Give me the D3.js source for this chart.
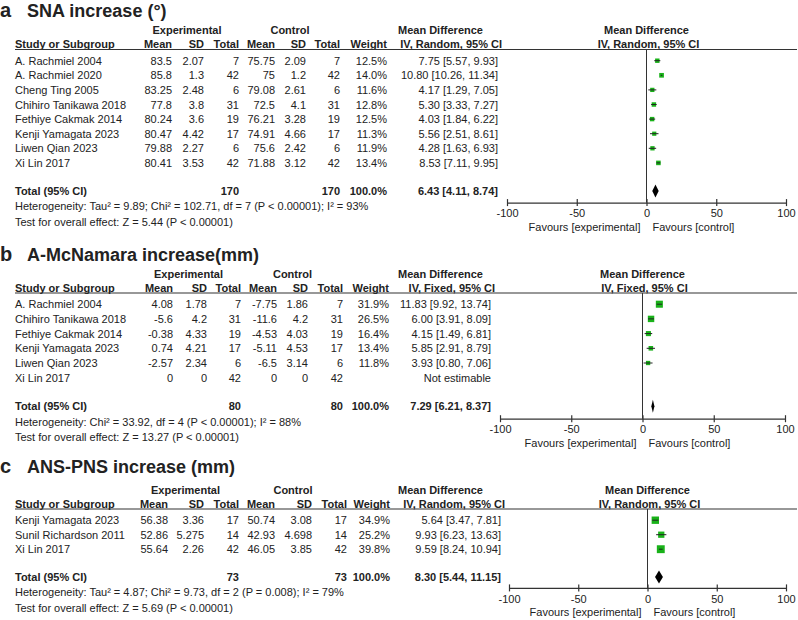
<!DOCTYPE html>
<html>
<head>
<meta charset="utf-8">
<script src="https://cdn.jsdelivr.net/npm/d3@7"></script>
<style>
  body { margin: 0; background: #fff; }
  text { font-family: Arial, "Liberation Sans", sans-serif; fill: #222; }
</style>
</head>
<body>
<div id="chart"></div>
<script>
// ---- panel a: SNA increase
const snaStudies = ["A. Rachmiel 2004", "A. Rachmiel 2020", "Cheng Ting 2005", "Chihiro Tanikawa 2018",
  "Fethiye Cakmak 2014", "Kenji Yamagata 2023", "Liwen Qian 2023", "Xi Lin 2017"];
const snaExpMean = [83.5, 85.8, 83.25, 77.8, 80.24, 80.47, 79.88, 80.41];
const snaExpSD = [2.07, 1.3, 2.48, 3.8, 3.6, 4.42, 2.27, 3.53];
const snaExpN = [7, 42, 6, 31, 19, 17, 6, 42];
const snaCtrlMean = [75.75, 75, 79.08, 72.5, 76.21, 74.91, 75.6, 71.88];
const snaCtrlSD = [2.09, 1.2, 2.61, 4.1, 3.28, 4.66, 2.42, 3.12];
const snaCtrlN = [7, 42, 6, 31, 19, 17, 6, 42];
const snaWeight = [12.5, 14.0, 11.6, 12.8, 12.5, 11.3, 11.9, 13.4];
const snaMD = [7.75, 10.80, 4.17, 5.30, 4.03, 5.56, 4.28, 8.53];
const snaLo = [5.57, 10.26, 1.29, 3.33, 1.84, 2.51, 1.63, 7.11];
const snaHi = [9.93, 11.34, 7.05, 7.27, 6.22, 8.61, 6.93, 9.95];
const snaTotal = [6.43, 4.11, 8.74];
const snaTotalN = [170, 170];

// ---- panel b: A-McNamara increase
const mcnStudies = ["A. Rachmiel 2004", "Chihiro Tanikawa 2018", "Fethiye Cakmak 2014",
  "Kenji Yamagata 2023", "Liwen Qian 2023", "Xi Lin 2017"];
const mcnExpMean = [4.08, -5.6, -0.38, 0.74, -2.57, 0];
const mcnExpSD = [1.78, 4.2, 4.33, 4.21, 2.34, 0];
const mcnExpN = [7, 31, 19, 17, 6, 42];
const mcnCtrlMean = [-7.75, -11.6, -4.53, -5.11, -6.5, 0];
const mcnCtrlSD = [1.86, 4.2, 4.03, 4.53, 3.14, 0];
const mcnCtrlN = [7, 31, 19, 17, 6, 42];
const mcnWeight = [31.9, 26.5, 16.4, 13.4, 11.8, null];
const mcnMD = [11.83, 6.00, 4.15, 5.85, 3.93, null];
const mcnLo = [9.92, 3.91, 1.49, 2.91, 0.80, null];
const mcnHi = [13.74, 8.09, 6.81, 8.79, 7.06, null];
const mcnTotal = [7.29, 6.21, 8.37];
const mcnTotalN = [80, 80];

// ---- panel c: ANS-PNS increase
const ansStudies = ["Kenji Yamagata 2023", "Sunil Richardson 2011", "Xi Lin 2017"];
const ansExpMean = [56.38, 52.86, 55.64];
const ansExpSD = [3.36, 5.275, 2.26];
const ansExpN = [17, 14, 42];
const ansCtrlMean = [50.74, 42.93, 46.05];
const ansCtrlSD = [3.08, 4.698, 3.85];
const ansCtrlN = [17, 14, 42];
const ansWeight = [34.9, 25.2, 39.8];
const ansMD = [5.64, 9.93, 9.59];
const ansLo = [3.47, 6.23, 8.24];
const ansHi = [7.81, 13.63, 10.94];
const ansTotal = [8.30, 5.44, 11.15];
const ansTotalN = [73, 73];

const axisTicks = [-100, -50, 0, 50, 100];

const panels = [
  {
    label: "a", title: "SNA increase (°)", method: "IV, Random, 95% CI",
    studies: snaStudies, expMean: snaExpMean, expSD: snaExpSD, expN: snaExpN,
    ctrlMean: snaCtrlMean, ctrlSD: snaCtrlSD, ctrlN: snaCtrlN, weight: snaWeight,
    md: snaMD, lo: snaLo, hi: snaHi, total: snaTotal, totalN: snaTotalN,
    het: "Heterogeneity: Tau² = 9.89; Chi² = 102.71, df = 7 (P < 0.00001); I² = 93%",
    test: "Test for overall effect: Z = 5.44 (P < 0.00001)",
    // layout
    line: 49.5, step: 14.6, titleY: 17, totalGap: 28, axisGap: 11.7,
    cols: [172, 204, 239, 275, 306, 340, 387, 498], expC: 187, ctrlC: 290,
    plot: [507, 786]
  },
  {
    label: "b", title: "A-McNamara increase(mm)", method: "IV, Fixed, 95% CI",
    studies: mcnStudies, expMean: mcnExpMean, expSD: mcnExpSD, expN: mcnExpN,
    ctrlMean: mcnCtrlMean, ctrlSD: mcnCtrlSD, ctrlN: mcnCtrlN, weight: mcnWeight,
    md: mcnMD, lo: mcnLo, hi: mcnHi, total: mcnTotal, totalN: mcnTotalN,
    het: "Heterogeneity: Chi² = 33.92, df = 4 (P < 0.00001); I² = 88%",
    test: "Test for overall effect: Z = 13.27 (P < 0.00001)",
    line: 293, step: 14.7, titleY: 261, totalGap: 28.5, axisGap: 12.5,
    cols: [173, 207, 241, 277, 308, 343, 389, 491], expC: 188.5, ctrlC: 292.5,
    plot: [500, 785]
  },
  {
    label: "c", title: "ANS-PNS increase (mm)", method: "IV, Random, 95% CI",
    studies: ansStudies, expMean: ansExpMean, expSD: ansExpSD, expN: ansExpN,
    ctrlMean: ansCtrlMean, ctrlSD: ansCtrlSD, ctrlN: ansCtrlN, weight: ansWeight,
    md: ansMD, lo: ansLo, hi: ansHi, total: ansTotal, totalN: ansTotalN,
    het: "Heterogeneity: Tau² = 4.87; Chi² = 9.73, df = 2 (P = 0.008); I² = 79%",
    test: "Test for overall effect: Z = 5.69 (P < 0.00001)",
    line: 509, step: 14.5, titleY: 473, totalGap: 27.7, axisGap: 11,
    cols: [168, 204, 239, 275, 312, 347, 390, 501], expC: 185.5, ctrlC: 293,
    plot: [509, 786]
  }
];

const width = 798;
const height = 620;

const svg = d3.select("#chart")
  .append("svg")
  .attr("width", width)
  .attr("height", height);

const green = "#19b219";
const lineColor = "#333";

panels.forEach((p) => {
  const g = svg.append("g");
  const x = d3.scaleLinear().domain([-100, 100]).range(p.plot);
  const rowY = (i) => p.line + 11.2 + i * p.step;
  const lastY = rowY(p.studies.length - 1);
  const totalY = lastY + p.totalGap;
  const axisY = totalY + p.axisGap;

  // title
  g.append("text").attr("x", 0).attr("y", p.titleY)
    .attr("font-size", 20).attr("font-weight", "bold").text(p.label);
  g.append("text").attr("x", 27).attr("y", p.titleY)
    .attr("font-size", 18).attr("font-weight", "bold").text(p.title);

  const bold = (t) => t.attr("font-size", 11).attr("font-weight", "bold");

  // group headers
  const topY = p.line - 19.5 + 4;
  bold(g.append("text")).attr("x", p.expC).attr("y", topY).attr("text-anchor", "middle").text("Experimental");
  bold(g.append("text")).attr("x", p.ctrlC).attr("y", topY).attr("text-anchor", "middle").text("Control");
  bold(g.append("text")).attr("x", 398).attr("y", topY).text("Mean Difference");
  bold(g.append("text")).attr("x", x(0)).attr("y", topY).attr("text-anchor", "middle").text("Mean Difference");

  // column headers
  const hy = p.line - 1.5;
  bold(g.append("text")).attr("x", 15).attr("y", hy).text("Study or Subgroup");
  ["Mean", "SD", "Total", "Mean", "SD", "Total", "Weight"].forEach((h, i) => {
    bold(g.append("text")).attr("x", p.cols[i]).attr("y", hy).attr("text-anchor", "end").text(h);
  });
  bold(g.append("text")).attr("x", p.cols[7] + 4).attr("y", hy).attr("text-anchor", "end").text(p.method);
  bold(g.append("text")).attr("x", x(0) + 2).attr("y", hy).attr("text-anchor", "middle").text(p.method);

  g.append("line").attr("x1", 15).attr("x2", 797).attr("y1", p.line).attr("y2", p.line)
    .attr("stroke", lineColor).attr("stroke-width", 1.2);

  // study rows
  const rows = g.selectAll("g.row")
    .data(p.studies.map((name, i) => ({
      name, i,
      vals: [p.expMean[i], p.expSD[i], p.expN[i], p.ctrlMean[i], p.ctrlSD[i], p.ctrlN[i],
        p.weight[i] == null ? "" : p.weight[i].toFixed(1) + "%",
        p.md[i] == null ? "Not estimable" : `${p.md[i].toFixed(2)} [${p.lo[i].toFixed(2)}, ${p.hi[i].toFixed(2)}]`]
    })))
    .enter()
    .append("g")
    .attr("class", "row")
    .attr("transform", (d) => `translate(0, ${rowY(d.i) + 4})`);

  rows.append("text").attr("x", 15).attr("font-size", 11).text((d) => d.name);
  rows.selectAll("text.val")
    .data((d) => d.vals)
    .enter()
    .append("text")
    .attr("class", "val")
    .attr("font-size", 11)
    .attr("text-anchor", "end")
    .attr("x", (d, j) => p.cols[j])
    .text((d) => d);

  // total rows
  const ty = totalY + 4;
  bold(g.append("text")).attr("x", 15).attr("y", ty).text("Total (95% CI)");
  bold(g.append("text")).attr("x", p.cols[2]).attr("y", ty).attr("text-anchor", "end").text(p.totalN[0]);
  bold(g.append("text")).attr("x", p.cols[5]).attr("y", ty).attr("text-anchor", "end").text(p.totalN[1]);
  bold(g.append("text")).attr("x", p.cols[6]).attr("y", ty).attr("text-anchor", "end").text("100.0%");
  bold(g.append("text")).attr("x", p.cols[7]).attr("y", ty).attr("text-anchor", "end")
    .text(`${p.total[0].toFixed(2)} [${p.total[1].toFixed(2)}, ${p.total[2].toFixed(2)}]`);

  g.append("text").attr("x", 15).attr("y", totalY + 15.5 + 4).attr("font-size", 11).text(p.het);
  g.append("text").attr("x", 15).attr("y", totalY + 31 + 4).attr("font-size", 11).text(p.test);

  // zero line
  g.append("line").attr("x1", x(0)).attr("x2", x(0)).attr("y1", p.line).attr("y2", axisY)
    .attr("stroke", lineColor).attr("stroke-width", 1);

  // markers
  const est = p.studies.map((s, i) => i).filter((i) => p.md[i] != null);
  const mk = g.selectAll("g.mk").data(est).enter().append("g").attr("class", "mk");
  mk.append("rect")
    .attr("x", (i) => x(p.md[i]) - 1.25 * Math.sqrt(p.weight[i]) / 2)
    .attr("y", (i) => rowY(i) - 1.25 * Math.sqrt(p.weight[i]) / 2)
    .attr("width", (i) => 1.25 * Math.sqrt(p.weight[i]))
    .attr("height", (i) => 1.25 * Math.sqrt(p.weight[i]))
    .attr("fill", green);
  mk.append("line")
    .attr("x1", (i) => x(p.lo[i])).attr("x2", (i) => x(p.hi[i]))
    .attr("y1", (i) => rowY(i)).attr("y2", (i) => rowY(i))
    .attr("stroke", "#222").attr("stroke-width", 1);

  // diamond
  g.append("path")
    .attr("d", `M${x(p.total[1])},${totalY} L${x(p.total[0])},${totalY - 6.5} L${x(p.total[2])},${totalY} L${x(p.total[0])},${totalY + 6.5} Z`)
    .attr("fill", "#000");

  // axis
  const axis = g.append("g").attr("transform", `translate(0, ${axisY})`)
    .call(d3.axisBottom(x).tickValues(axisTicks).tickSize(0).tickPadding(7).tickFormat((d) => String(d)));
  axis.select(".domain").attr("stroke", lineColor).attr("stroke-width", 1.2);
  axis.selectAll(".tick line").attr("y1", -3.5).attr("y2", 3.5).attr("stroke", lineColor).attr("stroke-width", 1.2);
  axis.selectAll(".tick text").attr("font-size", 11).attr("fill", "#222")
    .attr("font-family", "Arial, 'Liberation Sans', sans-serif");

  g.append("text").attr("x", x(0) - 6).attr("y", axisY + 28.5).attr("font-size", 11)
    .attr("text-anchor", "end").text("Favours [experimental]");
  g.append("text").attr("x", x(0) + 6).attr("y", axisY + 28.5).attr("font-size", 11)
    .text("Favours [control]");
});
</script>
</body>
</html>
